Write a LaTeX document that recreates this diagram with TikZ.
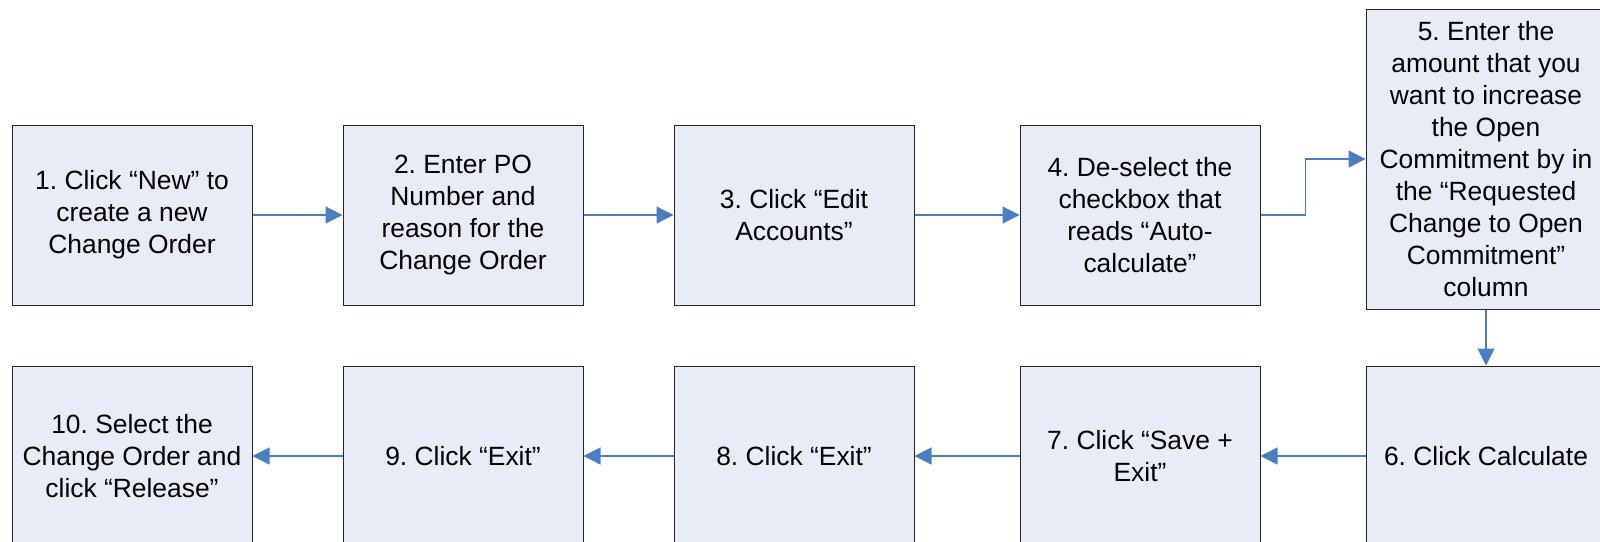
\documentclass[tikz,border=0pt]{standalone}
\usepackage{fontspec}
\setmainfont{Liberation Sans}
\usetikzlibrary{positioning,arrows.meta}
\definecolor{boxfill}{RGB}{231,236,247}
\definecolor{flowblue}{RGB}{74,126,193}
\frenchspacing

\begin{document}
\begin{tikzpicture}[x=1pt, y=1pt,
          every node/.style = {font=\fontsize{13.2}{16}\selectfont},
          stepbox/.style = {shape=rectangle, draw=black!85, line width=0.5pt,
            fill=boxfill, align=center, inner sep=0pt,
            minimum width=120pt, minimum height=90pt},
          flow/.style = {draw=flowblue, line width=0.6pt,
            -{Triangle[length=8.5pt, width=8.5pt]}}]
  \useasboundingbox (0,0) rectangle (800,-270.5);

  \node[stepbox] (s1) at (66,-107.5) {1. Click “New” to\\create a new\\Change Order};
  \node[stepbox, right=45pt of s1] (s2) {2. Enter PO\\Number and\\reason for the\\Change Order};
  \node[stepbox, right=45pt of s2] (s3) {3. Click “Edit\\Accounts”};
  \node[stepbox, right=52.5pt of s3] (s4) {4. De-select the\\checkbox that\\reads “Auto-\\calculate”};
  \node[stepbox, minimum height=150pt, right=52.5pt of s4, yshift=28pt] (s5)
    {5. Enter the\\amount that you\\want to increase\\the Open\\Commitment by in\\the “Requested\\Change to Open\\Commitment”\\column};

  \node[stepbox, below=28pt of s5] (s6) {6. Click Calculate};
  \node[stepbox, left=52.5pt of s6] (s7) {7. Click “Save +\\Exit”};
  \node[stepbox, left=52.5pt of s7] (s8) {8. Click “Exit”};
  \node[stepbox, left=45pt of s8] (s9) {9. Click “Exit”};
  \node[stepbox, left=45pt of s9] (s10) {10. Select the\\Change Order and\\click “Release”};

  \draw[flow] (s1) -- (s2);
  \draw[flow] (s2) -- (s3);
  \draw[flow] (s3) -- (s4);
  \draw[flow] (s4.east) -- ++(22.5,0) |- (s5.west);
  \draw[flow] (s5) -- (s6);
  \draw[flow] (s6) -- (s7);
  \draw[flow] (s7) -- (s8);
  \draw[flow] (s8) -- (s9);
  \draw[flow] (s9) -- (s10);
\end{tikzpicture}
\end{document}
